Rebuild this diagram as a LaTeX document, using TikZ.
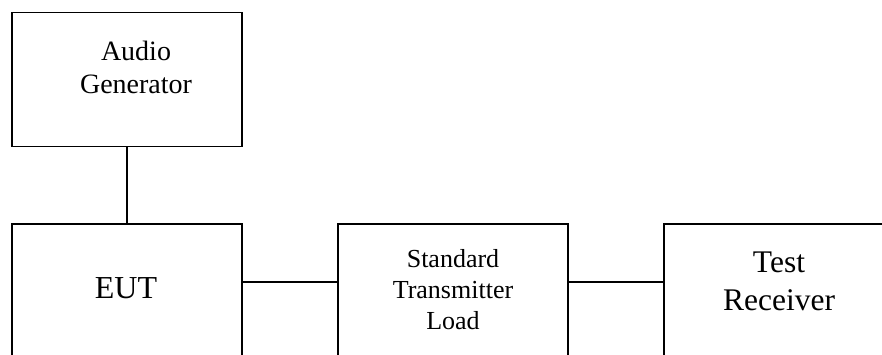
\documentclass[tikz,border=0pt]{standalone}
\usepackage{fontspec}
\setmainfont{Liberation Serif}
\begin{document}
\begin{tikzpicture}[x=1pt,y=-1pt,
  box/.style={draw=black, line width=1.5pt, minimum width=230pt, inner sep=0pt, outer sep=0pt},
  conn/.style={draw=black, line width=1.5pt},
  lbl/.style={align=center, inner sep=0pt, anchor=base}]
\useasboundingbox (0,0) rectangle (882,354);
\clip (0,0) rectangle (882,354);
% boxes
\node[box, minimum height=134pt] (ag) at (127,79.7) {};
\node[box, minimum height=176pt] (eut) at (127,312) {};
\node[box, minimum height=176pt] (stl) at (453,312) {};
\node[box, minimum height=176pt] (tr) at (779,312) {};
% labels
\node[lbl, font=\fontsize{28}{33}\selectfont] (agt) at (136,93.3) {Audio\\Generator};
\node[lbl, font=\fontsize{32}{38}\selectfont] (eutt) at (126,298.3) {EUT};
\node[lbl, font=\fontsize{26}{31}\selectfont] (stlt) at (453,329) {Standard\\Transmitter\\Load};
\node[lbl, font=\fontsize{31.5}{38}\selectfont] (trt) at (779,310) {Test\\Receiver};
% connectors
\draw[conn] (ag.south) -- (eut.north);
\draw[conn] ([yshift=-58pt]eut.north east) -- ([yshift=-58pt]stl.north west);
\draw[conn] ([yshift=-58pt]stl.north east) -- ([yshift=-58pt]tr.north west);
\end{tikzpicture}
\end{document}
